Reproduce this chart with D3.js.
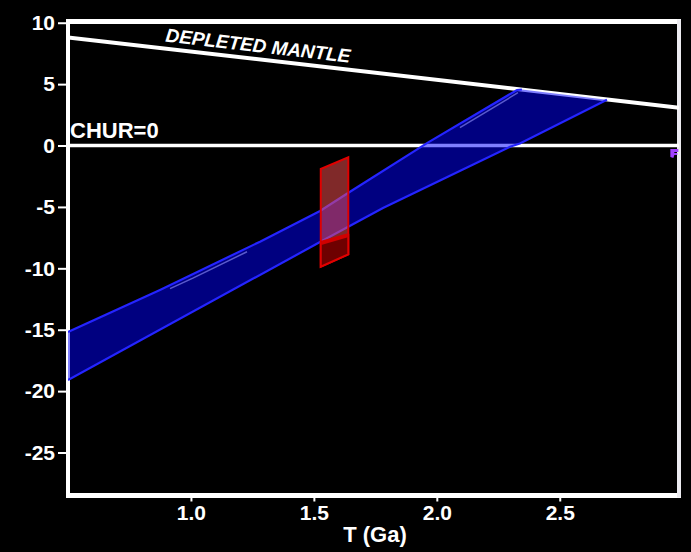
<!DOCTYPE html>
<html>
<head>
<meta charset="utf-8">
<script src="https://cdn.jsdelivr.net/npm/d3@7"></script>
<style>
  html, body { margin: 0; padding: 0; background: #000; }
  svg { display: block; }
  text { font-family: "Liberation Sans", Arial, sans-serif; font-weight: bold; fill: #fff; }
</style>
</head>
<body>
<svg id="chart" width="691" height="552"></svg>
<script>
// ---- data ----
const tDomain = [0.5, 2.985];
const epsDomain = [-28.5, 10.1];
const xTicks = [1.0, 1.5, 2.0, 2.5];
const yTicks = [10, 5, 0, -5, -10, -15, -20, -25];
const xTitle = "T (Ga)";
const depletedMantle = [[0.5, 8.8], [2.985, 3.08]];
const depletedLabel = "DEPLETED MANTLE";
const chur = [[0.5, 0], [2.985, 0]];
const churLabel = "CHUR=0";
// blue evolution band (T in Ga, epsilon Nd)
const bandUpper = [[0.5, -15.19], [0.874, -11.77], [1.281, -7.83], [1.525, -5.33], [1.639, -3.87], [1.96, 0.2], [2.326, 4.52], [2.346, 4.56]];
const bandTop = [[2.346, 4.56], [2.692, 3.72]];
const bandLower = [[2.692, 3.72], [2.338, 0.16], [2.298, -0.1], [1.781, -5.09], [1.525, -7.86], [0.5, -19.1]];
const bandStreakA = [[0.915, -11.65], [1.008, -10.8], [1.228, -8.65]];
const bandStreakB = [[2.094, 1.45], [2.33, 4.3]];
// red sample box
const redBox = [[1.528, -1.91], [1.64, -0.96], [1.64, -8.86], [1.528, -9.87]];
const redInner = [[1.528, -7.94], [1.64, -7.29], [1.64, -8.86], [1.528, -9.87]];
const purpleMark = [2.962, -0.6];

// ---- scales ----
const svg = d3.select("#chart");
const x = d3.scaleLinear().domain(tDomain).range([68, 679]);
const y = d3.scaleLinear().domain(epsDomain).range([495.5, 21.5]);
const line = d3.line().x(d => x(d[0])).y(d => y(d[1]));

svg.append("defs").append("clipPath").attr("id", "plot")
  .append("rect").attr("x", x(tDomain[0])).attr("y", y(epsDomain[1]))
  .attr("width", x(tDomain[1]) - x(tDomain[0])).attr("height", y(epsDomain[0]) - y(epsDomain[1]));

// ---- frame ----
const x0 = x(tDomain[0]), x1 = x(tDomain[1]), yT = y(epsDomain[1]), yB = y(epsDomain[0]);
svg.append("line").attr("x1", x0 - 2).attr("x2", x1 + 2).attr("y1", yT).attr("y2", yT).attr("stroke", "#fff").attr("stroke-width", 5);
svg.append("line").attr("x1", x0 - 2).attr("x2", x1 + 2).attr("y1", yB).attr("y2", yB).attr("stroke", "#fff").attr("stroke-width", 5);
svg.append("line").attr("x1", x0).attr("x2", x0).attr("y1", yT - 2).attr("y2", yB + 2).attr("stroke", "#fff").attr("stroke-width", 4);
svg.append("line").attr("x1", x1).attr("x2", x1).attr("y1", yT - 2).attr("y2", yB + 2).attr("stroke", "#ecebf0").attr("stroke-width", 4);

// ---- axes ----
const yAxis = svg.append("g").attr("transform", `translate(${x0 - 2},0)`)
  .call(d3.axisLeft(y).tickValues(yTicks).tickSize(8).tickPadding(3).tickFormat(d => String(d)));
const xAxis = svg.append("g").attr("transform", `translate(0,${yB})`)
  .call(d3.axisBottom(x).tickValues(xTicks).tickSize(6).tickPadding(3.5).tickFormat(d3.format(".1f")));
[yAxis, xAxis].forEach(g => {
  g.select(".domain").remove();
  g.selectAll(".tick line").attr("stroke", "#fff").attr("stroke-width", 2);
  g.selectAll(".tick text").attr("fill", "#fff").style("font-size", "21px")
    .style("font-family", '"Liberation Sans", Arial, sans-serif').style("font-weight", "bold");
});

svg.append("text").attr("x", 375).attr("y", 542).attr("text-anchor", "middle")
  .style("font-size", "22px").text(xTitle);

// ---- reference lines ----
const plot = svg.append("g").attr("clip-path", "url(#plot)");
plot.append("path").attr("d", line(depletedMantle)).attr("fill", "none").attr("stroke", "#fff").attr("stroke-width", 4);
plot.append("path").attr("d", line(chur)).attr("fill", "none").attr("stroke", "#fff").attr("stroke-width", 3.5);

svg.append("text").attr("x", 70).attr("y", 137.5).style("font-size", "22px").text(churLabel);
const angle = Math.atan2(y(depletedMantle[1][1]) - y(depletedMantle[0][1]), x(depletedMantle[1][0]) - x(depletedMantle[0][0])) * 180 / Math.PI;
svg.append("text").attr("transform", `translate(165,41.5) rotate(${angle})`)
  .style("font-size", "19px").style("font-style", "italic").text(depletedLabel);

// ---- blue band ----
const bandPoly = bandUpper.concat(bandTop.slice(1), bandLower.slice(1));
plot.append("path").attr("d", line(bandPoly) + "Z").attr("fill", "rgba(0,0,255,0.5)").attr("stroke", "none");
plot.append("path").attr("d", line(bandUpper)).attr("fill", "none").attr("stroke", "#2424ff").attr("stroke-width", 2.2);
plot.append("path").attr("d", line(bandLower)).attr("fill", "none").attr("stroke", "#2424ff").attr("stroke-width", 2.2);
[bandStreakA, bandStreakB].forEach(s => {
  plot.append("path").attr("d", line(s)).attr("fill", "none").attr("stroke", "rgba(150,150,255,0.6)").attr("stroke-width", 1.5);
});

// ---- red box ----
plot.append("path").attr("d", line(redBox) + "Z").attr("fill", "rgba(255,82,82,0.5)").attr("stroke", "#e00000").attr("stroke-width", 2);
plot.append("path").attr("d", line(redInner) + "Z").attr("fill", "#6e0000").attr("stroke", "#e00000").attr("stroke-width", 2);
plot.append("path").attr("d", line(redInner.slice(0, 2))).attr("fill", "none").attr("stroke", "#d00000").attr("stroke-width", 4);

// ---- purple marker ----
const px = x(purpleMark[0]), py = y(purpleMark[1]);
svg.append("path").attr("transform", `translate(${px},${py})`)
  .attr("d", "M-3,-4 L5,-4 L5,-1 L1,-1 L1,0 L4,0 L4,2 L1,2 L0,5 L-3,4 Z")
  .attr("fill", "#a040ff");
</script>
</body>
</html>
